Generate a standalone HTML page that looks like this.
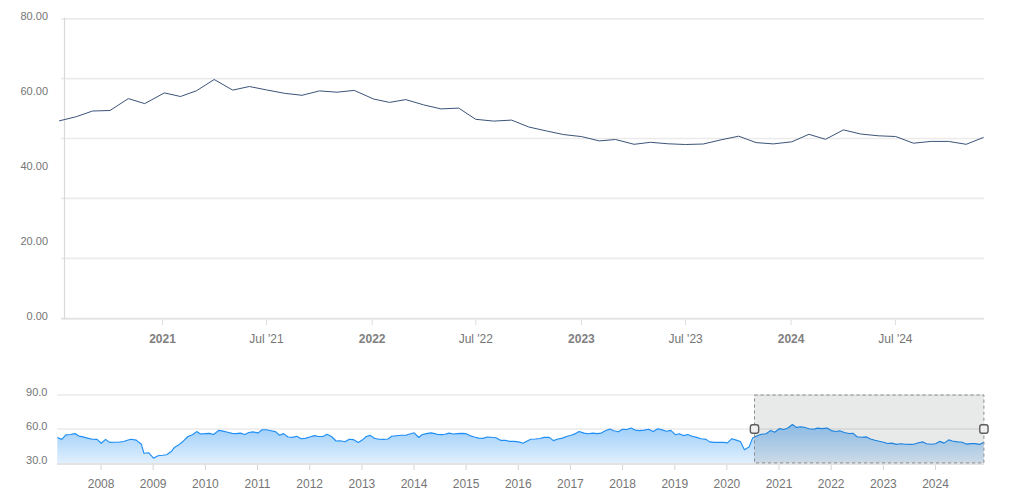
<!DOCTYPE html>
<html><head><meta charset="utf-8"><style>
html,body{margin:0;padding:0;background:#fff;}
body{width:1009px;height:498px;overflow:hidden;}
svg{display:block;}
text{font-family:"Liberation Sans", sans-serif;}
</style></head><body>
<svg width="1009" height="498" viewBox="0 0 1009 498">
<defs>
<linearGradient id="navg" x1="0" y1="424" x2="0" y2="464" gradientUnits="userSpaceOnUse">
<stop offset="0" stop-color="#99ccfa"/>
<stop offset="1" stop-color="#e2f0fd"/>
</linearGradient>
<clipPath id="mainclip"><rect x="59" y="0" width="926" height="330"/></clipPath>
</defs>

<line x1="61" y1="18.9" x2="984" y2="18.9" stroke="#ebebeb" stroke-width="1.6"/>
<line x1="61" y1="78.6" x2="984" y2="78.6" stroke="#ebebeb" stroke-width="1.6"/>
<line x1="61" y1="138.5" x2="984" y2="138.5" stroke="#ebebeb" stroke-width="1.6"/>
<line x1="61" y1="198.4" x2="984" y2="198.4" stroke="#ebebeb" stroke-width="1.6"/>
<line x1="61" y1="258.35" x2="984" y2="258.35" stroke="#ebebeb" stroke-width="1.6"/>
<line x1="61" y1="318.8" x2="984" y2="318.8" stroke="#e4e4e6" stroke-width="2"/>
<line x1="64.5" y1="17.5" x2="64.5" y2="319" stroke="#d9d9dc" stroke-width="1.2"/>
<line x1="162.5" y1="320" x2="162.5" y2="325" stroke="#dedede" stroke-width="1"/>
<text x="162.5" y="343" text-anchor="middle" font-size="12" font-weight="bold" fill="#808080">2021</text>
<line x1="266.5" y1="320" x2="266.5" y2="325" stroke="#dedede" stroke-width="1"/>
<text x="266.5" y="343" text-anchor="middle" font-size="12" fill="#757575">Jul '21</text>
<line x1="372.2" y1="320" x2="372.2" y2="325" stroke="#dedede" stroke-width="1"/>
<text x="372.2" y="343" text-anchor="middle" font-size="12" font-weight="bold" fill="#808080">2022</text>
<line x1="475.8" y1="320" x2="475.8" y2="325" stroke="#dedede" stroke-width="1"/>
<text x="475.8" y="343" text-anchor="middle" font-size="12" fill="#757575">Jul '22</text>
<line x1="581.4" y1="320" x2="581.4" y2="325" stroke="#dedede" stroke-width="1"/>
<text x="581.4" y="343" text-anchor="middle" font-size="12" font-weight="bold" fill="#808080">2023</text>
<line x1="685.6" y1="320" x2="685.6" y2="325" stroke="#dedede" stroke-width="1"/>
<text x="685.6" y="343" text-anchor="middle" font-size="12" fill="#757575">Jul '23</text>
<line x1="791.1" y1="320" x2="791.1" y2="325" stroke="#dedede" stroke-width="1"/>
<text x="791.1" y="343" text-anchor="middle" font-size="12" font-weight="bold" fill="#808080">2024</text>
<line x1="895.4" y1="320" x2="895.4" y2="325" stroke="#dedede" stroke-width="1"/>
<text x="895.4" y="343" text-anchor="middle" font-size="12" fill="#757575">Jul '24</text>
<text x="48" y="20" text-anchor="end" font-size="11" fill="#757575">80.00</text>
<text x="48" y="95" text-anchor="end" font-size="11" fill="#757575">60.00</text>
<text x="48" y="170" text-anchor="end" font-size="11" fill="#757575">40.00</text>
<text x="48" y="245" text-anchor="end" font-size="11" fill="#757575">20.00</text>
<text x="48" y="320" text-anchor="end" font-size="11" fill="#757575">0.00</text>
<path d="M59.1,120.9 L76.3,116.7 L92.5,111.0 L110.0,110.5 L128.3,98.6 L144.7,103.6 L164.4,92.9 L180.5,96.5 L196.6,90.7 L214.2,79.5 L232.7,90.1 L249.4,86.5 L266.4,89.9 L284.5,93.3 L302.0,95.3 L319.5,90.9 L337.0,92.2 L354.2,90.4 L373.6,99.0 L389.5,102.4 L405.8,99.6 L423.7,104.9 L441.0,108.9 L458.7,108.1 L475.7,119.3 L493.7,121.1 L511.6,120.1 L528.8,127.0 L546.6,131.0 L563.8,134.6 L581.6,136.6 L599.3,140.9 L615.5,139.5 L634.1,144.3 L650.5,142.3 L668.3,143.8 L685.5,144.5 L703.3,144.0 L721.1,139.8 L738.7,136.2 L756.1,142.6 L773.3,143.9 L791.8,141.8 L808.9,134.3 L825.5,139.3 L843.4,129.9 L860.6,134.0 L878.4,135.8 L895.6,136.5 L913.4,143.2 L931.2,141.4 L948.4,141.4 L966.2,144.3 L983.6,137.4" fill="none" stroke="#3a5479" stroke-width="1" stroke-linejoin="round" clip-path="url(#mainclip)"/>
<line x1="57" y1="395" x2="984" y2="395" stroke="#eaeaea" stroke-width="1.4"/>
<line x1="57" y1="429" x2="984" y2="429" stroke="#eaeaea" stroke-width="1.4"/>
<path d="M57.3,437.5 L61.8,439.4 L65.8,434.9 L70.4,434.5 L74.9,433.6 L79.0,436.1 L83.0,436.9 L87.5,438.1 L92.1,439.3 L97.0,439.4 L101.3,443.3 L105.6,439.4 L109.7,442.4 L113.8,442.2 L118.3,442.2 L123.7,441.5 L127.3,440.3 L130.9,439.3 L136.3,440.1 L141.3,444.2 L144.0,453.3 L148.5,452.7 L153.5,458.2 L158.0,455.7 L162.5,455.3 L166.6,454.8 L171.6,451.2 L174.3,447.6 L179.3,444.4 L183.3,441.2 L187.9,436.5 L192.4,434.7 L196.7,431.6 L200.5,434.0 L205.0,433.6 L209.5,433.4 L213.6,434.5 L218.6,430.4 L223.1,431.1 L227.6,432.2 L232.1,433.4 L236.2,433.6 L240.3,433.1 L244.8,434.5 L248.9,432.5 L252.9,431.9 L258.3,432.9 L262.0,429.8 L266.5,429.7 L271.0,430.7 L275.5,431.6 L279.6,435.2 L283.4,433.6 L288.1,437.0 L292.7,437.4 L296.7,436.3 L301.2,438.8 L305.3,438.4 L309.8,437.0 L314.4,435.6 L318.4,436.5 L322.9,436.5 L327.0,434.3 L331.5,436.5 L336.1,441.0 L340.1,440.8 L345.1,441.7 L349.2,439.3 L353.2,439.6 L358.2,442.4 L362.2,440.1 L366.3,436.5 L370.4,435.4 L374.4,438.3 L379.0,439.3 L383.5,439.4 L388.0,439.0 L391.6,436.3 L396.1,435.8 L401.1,435.2 L405.6,435.2 L409.7,434.0 L414.2,432.8 L418.7,437.5 L421.9,434.7 L426.4,433.6 L430.9,432.9 L433.6,433.4 L438.1,434.5 L441.8,434.6 L444.9,434.3 L449.0,433.1 L453.5,434.0 L457.1,433.6 L461.6,433.4 L465.7,433.6 L469.8,435.6 L474.3,437.0 L478.8,438.1 L482.9,438.4 L487.0,437.0 L491.0,437.2 L496.0,437.8 L500.5,440.3 L505.0,440.3 L509.5,441.4 L514.0,441.4 L518.6,441.9 L523.1,443.3 L526.7,441.2 L530.8,439.3 L535.3,439.0 L539.8,438.5 L544.3,437.4 L549.3,437.4 L553.4,440.6 L557.9,439.0 L562.4,438.1 L566.5,436.5 L571.0,435.2 L575.5,433.6 L579.1,431.5 L584.1,433.1 L588.1,433.8 L592.7,433.1 L597.2,433.6 L601.2,433.1 L605.3,430.7 L609.8,429.0 L613.9,430.7 L618.4,431.8 L622.5,429.3 L627.0,429.5 L631.1,428.0 L635.2,430.1 L639.7,430.6 L644.2,430.1 L648.7,429.2 L653.2,431.5 L657.8,428.7 L662.2,429.9 L666.3,431.3 L670.8,430.4 L675.3,434.7 L679.4,433.7 L683.5,435.6 L687.6,434.5 L692.1,436.3 L696.6,437.4 L701.1,438.7 L706.1,439.4 L709.7,441.9 L714.2,442.4 L718.7,442.4 L723.3,442.4 L727.5,442.9 L731.9,438.7 L736.3,440.1 L740.4,441.5 L744.4,449.7 L749.0,447.1 L752.6,438.1 L756.2,436.3 L761.2,434.3 L766.1,433.7 L770.7,430.4 L774.7,432.2 L779.3,428.6 L783.8,429.5 L787.8,428.0 L792.4,424.5 L796.4,427.4 L801.0,426.8 L804.1,427.2 L809.0,428.7 L813.6,429.3 L817.6,428.1 L822.2,428.6 L827.1,428.1 L831.2,430.6 L835.7,431.5 L839.8,430.8 L844.3,432.5 L848.8,433.5 L853.3,433.4 L857.0,436.7 L861.9,437.3 L866.5,436.9 L870.5,439.0 L875.0,440.3 L879.1,441.2 L883.6,442.2 L887.7,443.5 L891.7,443.1 L896.2,444.4 L900.8,443.7 L905.3,444.2 L909.8,444.4 L913.9,444.2 L918.4,442.8 L922.9,441.9 L926.5,443.7 L931.1,444.2 L935.6,443.7 L939.6,441.4 L944.2,443.1 L948.7,439.9 L952.3,441.0 L957.6,441.9 L962.1,442.3 L966.1,444.1 L971.2,443.6 L975.2,443.6 L979.7,444.4 L983.7,442.3 L983.7,463.5 L57.3,463.5 Z" fill="url(#navg)" stroke="none"/>
<path d="M57.3,437.5 L61.8,439.4 L65.8,434.9 L70.4,434.5 L74.9,433.6 L79.0,436.1 L83.0,436.9 L87.5,438.1 L92.1,439.3 L97.0,439.4 L101.3,443.3 L105.6,439.4 L109.7,442.4 L113.8,442.2 L118.3,442.2 L123.7,441.5 L127.3,440.3 L130.9,439.3 L136.3,440.1 L141.3,444.2 L144.0,453.3 L148.5,452.7 L153.5,458.2 L158.0,455.7 L162.5,455.3 L166.6,454.8 L171.6,451.2 L174.3,447.6 L179.3,444.4 L183.3,441.2 L187.9,436.5 L192.4,434.7 L196.7,431.6 L200.5,434.0 L205.0,433.6 L209.5,433.4 L213.6,434.5 L218.6,430.4 L223.1,431.1 L227.6,432.2 L232.1,433.4 L236.2,433.6 L240.3,433.1 L244.8,434.5 L248.9,432.5 L252.9,431.9 L258.3,432.9 L262.0,429.8 L266.5,429.7 L271.0,430.7 L275.5,431.6 L279.6,435.2 L283.4,433.6 L288.1,437.0 L292.7,437.4 L296.7,436.3 L301.2,438.8 L305.3,438.4 L309.8,437.0 L314.4,435.6 L318.4,436.5 L322.9,436.5 L327.0,434.3 L331.5,436.5 L336.1,441.0 L340.1,440.8 L345.1,441.7 L349.2,439.3 L353.2,439.6 L358.2,442.4 L362.2,440.1 L366.3,436.5 L370.4,435.4 L374.4,438.3 L379.0,439.3 L383.5,439.4 L388.0,439.0 L391.6,436.3 L396.1,435.8 L401.1,435.2 L405.6,435.2 L409.7,434.0 L414.2,432.8 L418.7,437.5 L421.9,434.7 L426.4,433.6 L430.9,432.9 L433.6,433.4 L438.1,434.5 L441.8,434.6 L444.9,434.3 L449.0,433.1 L453.5,434.0 L457.1,433.6 L461.6,433.4 L465.7,433.6 L469.8,435.6 L474.3,437.0 L478.8,438.1 L482.9,438.4 L487.0,437.0 L491.0,437.2 L496.0,437.8 L500.5,440.3 L505.0,440.3 L509.5,441.4 L514.0,441.4 L518.6,441.9 L523.1,443.3 L526.7,441.2 L530.8,439.3 L535.3,439.0 L539.8,438.5 L544.3,437.4 L549.3,437.4 L553.4,440.6 L557.9,439.0 L562.4,438.1 L566.5,436.5 L571.0,435.2 L575.5,433.6 L579.1,431.5 L584.1,433.1 L588.1,433.8 L592.7,433.1 L597.2,433.6 L601.2,433.1 L605.3,430.7 L609.8,429.0 L613.9,430.7 L618.4,431.8 L622.5,429.3 L627.0,429.5 L631.1,428.0 L635.2,430.1 L639.7,430.6 L644.2,430.1 L648.7,429.2 L653.2,431.5 L657.8,428.7 L662.2,429.9 L666.3,431.3 L670.8,430.4 L675.3,434.7 L679.4,433.7 L683.5,435.6 L687.6,434.5 L692.1,436.3 L696.6,437.4 L701.1,438.7 L706.1,439.4 L709.7,441.9 L714.2,442.4 L718.7,442.4 L723.3,442.4 L727.5,442.9 L731.9,438.7 L736.3,440.1 L740.4,441.5 L744.4,449.7 L749.0,447.1 L752.6,438.1 L756.2,436.3 L761.2,434.3 L766.1,433.7 L770.7,430.4 L774.7,432.2 L779.3,428.6 L783.8,429.5 L787.8,428.0 L792.4,424.5 L796.4,427.4 L801.0,426.8 L804.1,427.2 L809.0,428.7 L813.6,429.3 L817.6,428.1 L822.2,428.6 L827.1,428.1 L831.2,430.6 L835.7,431.5 L839.8,430.8 L844.3,432.5 L848.8,433.5 L853.3,433.4 L857.0,436.7 L861.9,437.3 L866.5,436.9 L870.5,439.0 L875.0,440.3 L879.1,441.2 L883.6,442.2 L887.7,443.5 L891.7,443.1 L896.2,444.4 L900.8,443.7 L905.3,444.2 L909.8,444.4 L913.9,444.2 L918.4,442.8 L922.9,441.9 L926.5,443.7 L931.1,444.2 L935.6,443.7 L939.6,441.4 L944.2,443.1 L948.7,439.9 L952.3,441.0 L957.6,441.9 L962.1,442.3 L966.1,444.1 L971.2,443.6 L975.2,443.6 L979.7,444.4 L983.7,442.3" fill="none" stroke="#1f8ff5" stroke-width="1.15" stroke-linejoin="round"/>
<line x1="57" y1="464" x2="984" y2="464" stroke="#e3e3e3" stroke-width="2"/>
<text x="47.5" y="396.3" text-anchor="end" font-size="11" fill="#757575">90.0</text>
<text x="47.5" y="430.3" text-anchor="end" font-size="11" fill="#757575">60.0</text>
<text x="47.5" y="464" text-anchor="end" font-size="11" fill="#757575">30.0</text>
<line x1="101.1" y1="465" x2="101.1" y2="470" stroke="#d6d6d6" stroke-width="1"/>
<text x="101.1" y="487.6" text-anchor="middle" font-size="12" fill="#757575">2008</text>
<line x1="153.2" y1="465" x2="153.2" y2="470" stroke="#d6d6d6" stroke-width="1"/>
<text x="153.2" y="487.6" text-anchor="middle" font-size="12" fill="#757575">2009</text>
<line x1="205.4" y1="465" x2="205.4" y2="470" stroke="#d6d6d6" stroke-width="1"/>
<text x="205.4" y="487.6" text-anchor="middle" font-size="12" fill="#757575">2010</text>
<line x1="257.5" y1="465" x2="257.5" y2="470" stroke="#d6d6d6" stroke-width="1"/>
<text x="257.5" y="487.6" text-anchor="middle" font-size="12" fill="#757575">2011</text>
<line x1="309.7" y1="465" x2="309.7" y2="470" stroke="#d6d6d6" stroke-width="1"/>
<text x="309.7" y="487.6" text-anchor="middle" font-size="12" fill="#757575">2012</text>
<line x1="361.9" y1="465" x2="361.9" y2="470" stroke="#d6d6d6" stroke-width="1"/>
<text x="361.9" y="487.6" text-anchor="middle" font-size="12" fill="#757575">2013</text>
<line x1="414.0" y1="465" x2="414.0" y2="470" stroke="#d6d6d6" stroke-width="1"/>
<text x="414.0" y="487.6" text-anchor="middle" font-size="12" fill="#757575">2014</text>
<line x1="466.1" y1="465" x2="466.1" y2="470" stroke="#d6d6d6" stroke-width="1"/>
<text x="466.1" y="487.6" text-anchor="middle" font-size="12" fill="#757575">2015</text>
<line x1="518.3" y1="465" x2="518.3" y2="470" stroke="#d6d6d6" stroke-width="1"/>
<text x="518.3" y="487.6" text-anchor="middle" font-size="12" fill="#757575">2016</text>
<line x1="570.4" y1="465" x2="570.4" y2="470" stroke="#d6d6d6" stroke-width="1"/>
<text x="570.4" y="487.6" text-anchor="middle" font-size="12" fill="#757575">2017</text>
<line x1="622.6" y1="465" x2="622.6" y2="470" stroke="#d6d6d6" stroke-width="1"/>
<text x="622.6" y="487.6" text-anchor="middle" font-size="12" fill="#757575">2018</text>
<line x1="674.8" y1="465" x2="674.8" y2="470" stroke="#d6d6d6" stroke-width="1"/>
<text x="674.8" y="487.6" text-anchor="middle" font-size="12" fill="#757575">2019</text>
<line x1="726.9" y1="465" x2="726.9" y2="470" stroke="#d6d6d6" stroke-width="1"/>
<text x="726.9" y="487.6" text-anchor="middle" font-size="12" fill="#757575">2020</text>
<line x1="779.0" y1="465" x2="779.0" y2="470" stroke="#d6d6d6" stroke-width="1"/>
<text x="779.0" y="487.6" text-anchor="middle" font-size="12" fill="#757575">2021</text>
<line x1="831.2" y1="465" x2="831.2" y2="470" stroke="#d6d6d6" stroke-width="1"/>
<text x="831.2" y="487.6" text-anchor="middle" font-size="12" fill="#757575">2022</text>
<line x1="883.4" y1="465" x2="883.4" y2="470" stroke="#d6d6d6" stroke-width="1"/>
<text x="883.4" y="487.6" text-anchor="middle" font-size="12" fill="#757575">2023</text>
<line x1="935.5" y1="465" x2="935.5" y2="470" stroke="#d6d6d6" stroke-width="1"/>
<text x="935.5" y="487.6" text-anchor="middle" font-size="12" fill="#757575">2024</text>
<rect x="754.5" y="395" width="229.4" height="67.9" fill="rgba(0,10,10,0.09)" stroke="#8c8c8c" stroke-width="1" stroke-dasharray="3.2,2.8"/>
<rect x="750.35" y="424.75" width="8.3" height="8.5" rx="2.2" ry="2.2" fill="#f0f0f0" stroke="#5e5e5e" stroke-width="1.4"/>
<rect x="979.75" y="424.75" width="8.3" height="8.5" rx="2.2" ry="2.2" fill="#f0f0f0" stroke="#5e5e5e" stroke-width="1.4"/>
</svg>
</body></html>
